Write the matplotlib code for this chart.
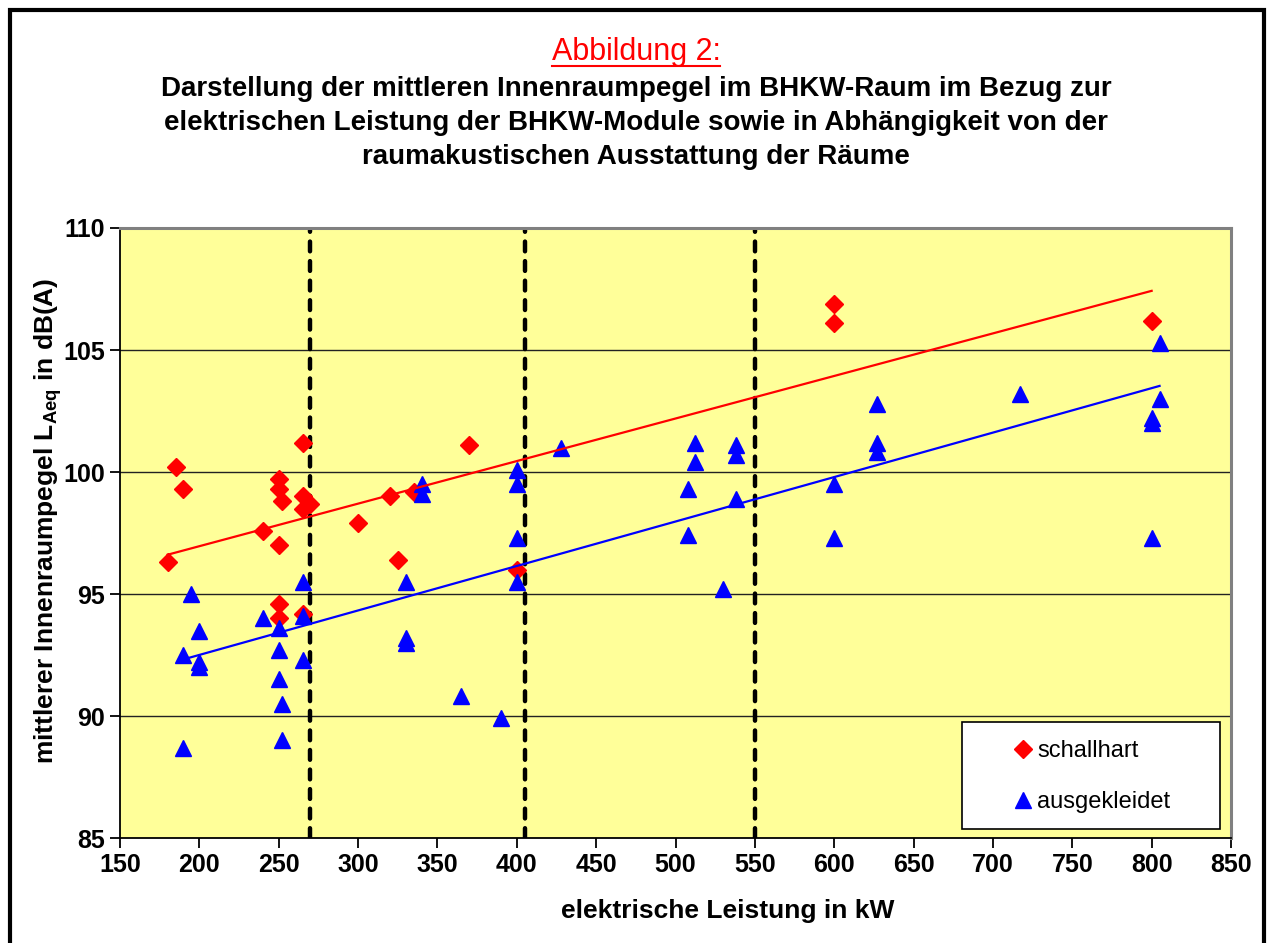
import numpy as np
import matplotlib
matplotlib.use('Agg')
import matplotlib.pyplot as plt
from matplotlib.lines import Line2D
from matplotlib.patches import Rectangle

plt.rcParams['font.family'] = ['Liberation Sans', 'DejaVu Sans']
plt.rcParams['mathtext.fontset'] = 'custom'
plt.rcParams['mathtext.bf'] = 'Liberation Sans:bold'
plt.rcParams['mathtext.rm'] = 'Liberation Sans'

# schallhart (red diamonds)
hart_kw = [180, 185, 190, 240, 250, 250, 252, 250, 250, 250, 265, 265, 265, 270, 265,
           300, 320, 325, 335, 370, 400, 600, 600, 800]
hart_db = [96.3, 100.2, 99.3, 97.6, 99.7, 99.3, 98.8, 97.0, 94.6, 94.0, 101.2, 99.0, 98.5, 98.7, 94.2,
           97.9, 99.0, 96.4, 99.2, 101.1, 96.0, 106.9, 106.1, 106.2]

# ausgekleidet (blue triangles)
ausg_kw = [195, 200, 190, 200, 200, 190, 240, 250, 250, 250, 252, 252, 265, 265, 265,
           340, 340, 330, 330, 330, 365, 390, 400, 400, 400, 400, 428,
           512, 512, 508, 508, 530, 538, 538, 538, 600, 600, 627, 627, 627,
           717, 805, 805, 800, 800, 800]
ausg_db = [95.0, 93.5, 92.5, 92.2, 92.0, 88.7, 94.0, 93.6, 92.7, 91.5, 90.5, 89.0, 95.5, 94.1, 92.3,
           99.5, 99.1, 95.5, 93.2, 93.0, 90.8, 89.9, 100.1, 99.5, 97.3, 95.5, 101.0,
           101.2, 100.4, 99.3, 97.4, 95.2, 101.1, 100.7, 98.9, 99.5, 97.3, 102.8, 101.2, 100.8,
           103.2, 105.3, 103.0, 102.2, 102.0, 97.3]

grenzen_kw = [270, 405, 550]
x_ticks = list(range(150, 851, 50))
y_ticks = list(range(85, 111, 5))

W, H = 1272, 943
fig = plt.figure(figsize=(W / 100, H / 100), dpi=100)
ax = fig.add_axes([120 / W, 1 - 838 / H, (1231 - 120) / W, (838 - 228) / H])
ax.set_facecolor('#FFFF99')

ax.set_xlim(150, 850)
ax.set_ylim(85, 110)
ax.set_xticks(x_ticks)
ax.set_yticks(y_ticks)
for v in y_ticks[1:-1]:
    ax.axhline(v, color='#222222', lw=1.0, zorder=1)

for g in grenzen_kw:
    ax.axvline(g, color='black', lw=3.2, dashes=(2.2, 2.2), dash_capstyle='round', zorder=2)

ax.plot(hart_kw, hart_db, 'D', color='#FF0000', ms=9.3, mec='#FF0000', zorder=3)
ax.plot(ausg_kw, ausg_db, '^', color='#0000FF', ms=11.5, mec='#0000FF', zorder=3)

# lineare Trendlinien
for xs, ys, c in [(hart_kw, hart_db, '#FF0000'), (ausg_kw, ausg_db, '#0000FF')]:
    k, d = np.polyfit(xs, ys, 1)
    xx = np.array([min(xs), max(xs)])
    ax.plot(xx, k * xx + d, color=c, lw=1.6, zorder=4)

for s in ['top', 'right']:
    ax.spines[s].set_color('#808080')
    ax.spines[s].set_linewidth(2.2)
for s in ['left', 'bottom']:
    ax.spines[s].set_color('black')
    ax.spines[s].set_linewidth(1.3)
ax.tick_params(direction='out', length=7, width=1.3, labelsize=18, pad=4)
for lab in ax.get_xticklabels() + ax.get_yticklabels():
    lab.set_fontweight('bold')

ax.set_xlabel('elektrische Leistung in kW', fontsize=19, fontweight='bold')
ax.xaxis.set_label_coords(0.547, -0.10)
ax.set_ylabel(r'mittlerer Innenraumpegel L$_{\mathbf{Aeq}}$ in dB(A)', fontsize=19, fontweight='bold')
ax.yaxis.set_label_coords(-0.05, 0.52)

# Legende
ax.add_patch(Rectangle((0.758, 0.0148), 0.232, 0.175, transform=ax.transAxes,
                       facecolor='white', edgecolor='black', lw=1.2, zorder=5))
handles = [Line2D([], [], ls='none', marker='D', color='#FF0000', ms=9.3),
           Line2D([], [], ls='none', marker='^', color='#0000FF', ms=11.5)]
leg = ax.legend(handles, ['schallhart', 'ausgekleidet'], loc='center', bbox_to_anchor=(0.876, 0.1005),
                frameon=False, fontsize=17, numpoints=1, handlelength=0.6, handletextpad=0.3,
                labelspacing=1.25)
leg.set_zorder(6)

# Titel
t1 = fig.text(0.5, 1 - 60 / H, 'Abbildung 2:', ha='center', va='baseline', fontsize=22, color='#FF0000')
fig.text(0.5, 1 - 96 / H, 'Darstellung der mittleren Innenraumpegel im BHKW-Raum im Bezug zur',
         ha='center', va='baseline', fontsize=20, fontweight='bold')
fig.text(0.5, 1 - 130 / H, 'elektrischen Leistung der BHKW-Module sowie in Abhängigkeit von der',
         ha='center', va='baseline', fontsize=20, fontweight='bold')
fig.text(0.5, 1 - 164 / H, 'raumakustischen Ausstattung der Räume',
         ha='center', va='baseline', fontsize=20, fontweight='bold')

fig.canvas.draw()
bb = t1.get_window_extent()
fig.add_artist(Line2D([bb.x0, bb.x1], [H - 66, H - 66], transform=None, color='#FF0000', lw=1.5))

# Rahmen
fig.add_artist(Rectangle((10 / W, -0.1), (1264 - 10) / W, 1.1 - 10 / H, transform=fig.transFigure,
                         fill=False, edgecolor='black', lw=3))

fig.savefig('out.png', dpi=100)
